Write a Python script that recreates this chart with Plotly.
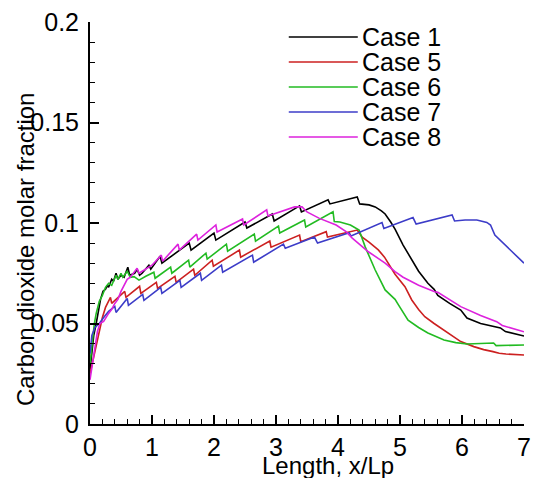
import plotly.graph_objects as go

# ---------------- data ----------------
names = ["Case 1", "Case 5", "Case 6", "Case 7", "Case 8"]
colors = ["#000000", "#cc2020", "#22bb22", "#3c3cc8", "#dd22dd"]

x1 = [0, 0.03, 0.06, 0.1, 0.13, 0.17, 0.21, 0.25, 0.28, 0.3, 0.35, 0.38, 0.42, 0.45, 0.5, 0.55,
      0.61, 0.64, 0.72, 0.76, 0.8, 0.84, 0.95, 0.98, 1.13, 1.16, 1.6, 1.63, 2.0, 2.03, 2.5, 2.53,
      2.94, 2.97, 3.38, 3.41, 3.84, 3.87, 4.31, 4.35, 4.5, 4.6, 4.7, 4.76, 4.85, 4.92, 5.05, 5.19,
      5.3, 5.45, 5.55, 5.61, 5.8, 5.98, 6.08, 6.3, 6.62, 6.7, 6.8, 7.0]
y1 = [0.027, 0.036, 0.044, 0.05, 0.056, 0.062, 0.066, 0.067, 0.069, 0.068, 0.072, 0.071, 0.075,
      0.072, 0.074, 0.073, 0.078, 0.074, 0.075, 0.077, 0.074, 0.075, 0.079, 0.077, 0.0835, 0.080,
      0.090, 0.0865, 0.095, 0.0915, 0.1005, 0.0975, 0.1045, 0.101, 0.1085, 0.1055, 0.1115, 0.1095,
      0.113, 0.1095, 0.109, 0.108, 0.106, 0.1045, 0.1005, 0.097, 0.089, 0.0816, 0.076, 0.070,
      0.067, 0.064, 0.060, 0.0567, 0.0527, 0.050, 0.0478, 0.046, 0.0452, 0.0438]

x5 = [0, 0.05, 0.1, 0.15, 0.2, 0.25, 0.33, 0.35, 0.56, 0.58, 0.8, 0.82, 1.07, 1.09, 1.37, 1.39,
      1.67, 1.69, 1.97, 1.99, 2.41, 2.43, 2.9, 2.92, 3.38, 3.4, 3.81, 3.83, 4.31, 4.39, 4.5, 4.65,
      4.75, 4.87, 4.92, 5.08, 5.19, 5.3, 5.4, 5.55, 5.71, 5.85, 5.98, 6.19, 6.35, 6.5, 6.6, 6.71,
      6.9, 7.0]
y5 = [0.025, 0.032, 0.04, 0.047, 0.053, 0.058, 0.063, 0.06, 0.066, 0.063, 0.0685, 0.065, 0.0705,
      0.0675, 0.0735, 0.0705, 0.077, 0.074, 0.0815, 0.0785, 0.0865, 0.083, 0.091, 0.088, 0.094,
      0.0907, 0.0957, 0.093, 0.0965, 0.093, 0.0905, 0.0866, 0.083, 0.077, 0.0745, 0.0683, 0.0617,
      0.057, 0.0534, 0.050, 0.0468, 0.044, 0.041, 0.0385, 0.037, 0.036, 0.0352, 0.0348, 0.0345,
      0.0343]

x6 = [0, 0.03, 0.07, 0.1, 0.15, 0.2, 0.25, 0.3, 0.35, 0.42, 0.45, 0.5, 0.53, 0.6, 0.65, 0.71,
      0.79, 0.9, 1.03, 1.05, 1.3, 1.32, 1.59, 1.61, 1.87, 1.89, 2.2, 2.22, 2.65, 2.67, 3.04, 3.06,
      3.46, 3.48, 3.92, 3.94, 4.03, 4.2, 4.34, 4.44, 4.52, 4.6, 4.76, 4.92, 4.97, 5.13, 5.3, 5.45,
      5.71, 5.9, 6.08, 6.3, 6.51, 6.55, 6.8, 7.0]
y6 = [0.03, 0.04, 0.05, 0.055, 0.061, 0.064, 0.068, 0.07, 0.069, 0.074, 0.072, 0.075, 0.073,
      0.076, 0.073, 0.0733, 0.0716, 0.0735, 0.0755, 0.0725, 0.078, 0.075, 0.0815, 0.078, 0.085,
      0.082, 0.0895, 0.086, 0.0945, 0.091, 0.0985, 0.095, 0.1015, 0.098, 0.1056, 0.1007, 0.1005,
      0.099, 0.0965, 0.088, 0.082, 0.0766, 0.0667, 0.062, 0.0595, 0.0517, 0.048, 0.0453, 0.0418,
      0.0405, 0.0398, 0.040, 0.0403, 0.039, 0.0392, 0.0393]

x7 = [0, 0.03, 0.08, 0.15, 0.22, 0.3, 0.4, 0.42, 0.6, 0.62, 0.85, 0.87, 1.14, 1.16, 1.45, 1.47,
      1.78, 1.8, 2.12, 2.14, 2.62, 2.64, 3.12, 3.15, 3.62, 3.67, 4.18, 4.21, 4.71, 4.74, 5.21,
      5.26, 5.84, 5.88, 6.05, 6.24, 6.4, 6.46, 6.53, 6.7, 7.0]
y7 = [0.035, 0.044, 0.048, 0.05, 0.053, 0.056, 0.0585, 0.0555, 0.0625, 0.059, 0.0645, 0.0615,
      0.068, 0.065, 0.0715, 0.068, 0.075, 0.0715, 0.079, 0.0755, 0.084, 0.0805, 0.0895, 0.0874,
      0.093, 0.090, 0.0952, 0.0935, 0.1002, 0.0973, 0.1027, 0.0995, 0.104, 0.101, 0.1015, 0.1015,
      0.1003, 0.099, 0.094, 0.089, 0.080]

x8 = [0, 0.04, 0.08, 0.12, 0.16, 0.22, 0.3, 0.35, 0.4, 0.45, 0.5, 0.55, 0.6, 0.65, 0.72, 0.76,
      0.79, 0.9, 1.0, 1.15, 1.17, 1.42, 1.44, 1.72, 1.74, 2.03, 2.05, 2.46, 2.48, 2.85, 2.87, 3.3,
      3.42, 3.5, 3.7, 3.97, 4.13, 4.23, 4.49, 4.76, 4.92, 5.05, 5.3, 5.56, 5.61, 5.98, 6.3, 6.56,
      6.65, 7.0]
y8 = [0.022, 0.03, 0.038, 0.046, 0.05, 0.051, 0.055, 0.057, 0.06, 0.062, 0.066, 0.069, 0.072,
      0.073, 0.076, 0.0775, 0.075, 0.077, 0.079, 0.084, 0.081, 0.0895, 0.0865, 0.0945, 0.0915,
      0.099, 0.0955, 0.102, 0.099, 0.1065, 0.1035, 0.108, 0.108, 0.1055, 0.1023, 0.099, 0.0957,
      0.0925, 0.0857, 0.080, 0.0758, 0.073, 0.069, 0.0658, 0.0655, 0.0584, 0.054, 0.0509, 0.049,
      0.0459]

xs = [x1, x5, x6, x7, x8]
ys = [y1, y5, y6, y7, y8]

x_ticks = [0, 1, 2, 3, 4, 5, 6, 7]
y_ticks = [0, 0.05, 0.1, 0.15, 0.2]
y_tick_text = ["0", "0.05", "0.1", "0.15", "0.2"]

x_title = "Length, x/Lp"
y_title = "Carbon dioxide molar fraction"

# ---------------- figure ----------------
FONT = "Arial, Liberation Sans, sans-serif"
fig = go.Figure()
for n, c, xv, yv in zip(names, colors, xs, ys):
    fig.add_trace(go.Scatter(x=xv, y=yv, mode="lines", name=n,
                             line=dict(color=c, width=1.6), showlegend=False))

# manual legend (long line samples like the reference)
leg_y0 = 0.9627
leg_dy = 0.0622
for i, (n, c) in enumerate(zip(names, colors)):
    yy = leg_y0 - i * leg_dy
    fig.add_shape(type="line", xref="paper", yref="paper",
                  x0=0.458, x1=0.617, y0=yy, y1=yy,
                  line=dict(color=c, width=1.6))
    fig.add_annotation(text=n, xref="paper", yref="paper", x=0.622, y=yy,
                       xanchor="left", yanchor="middle", showarrow=False,
                       font=dict(family=FONT, size=25, color="black"))

# axis titles
fig.add_annotation(text=x_title, xref="paper", yref="paper", x=0.549, y=-0.103,
                   xanchor="center", yanchor="middle", showarrow=False,
                   font=dict(family=FONT, size=24, color="black"))
fig.add_annotation(text=y_title, xref="paper", yref="paper", x=-0.15, y=0.435,
                   xanchor="center", yanchor="middle", showarrow=False, textangle=-90,
                   font=dict(family=FONT, size=24, color="black"))

fig.update_layout(
    width=538, height=478,
    margin=dict(l=90, r=7, t=22, b=54),
    paper_bgcolor="white", plot_bgcolor="white",
    font=dict(family=FONT, size=25, color="black"),
    xaxis=dict(range=[0, 7], tickvals=x_ticks, ticks="inside", ticklen=9, tickwidth=1.5,
               tickcolor="black", showline=True, linecolor="black", linewidth=2,
               showgrid=False, zeroline=False, ticklabelstandoff=0,
               tickfont=dict(family=FONT, size=25),
               minor=dict(dtick=0.2, ticks="inside", ticklen=5, tickwidth=1, tickcolor="black",
                          showgrid=False)),
    yaxis=dict(range=[0, 0.2], tickvals=y_ticks, ticktext=y_tick_text, ticks="inside",
               ticklen=9, tickwidth=1.5, tickcolor="black", showline=True, linecolor="black",
               linewidth=2, showgrid=False, zeroline=False, ticklabelstandoff=4,
               tickfont=dict(family=FONT, size=25),
               minor=dict(dtick=0.01, ticks="inside", ticklen=5, tickwidth=1, tickcolor="black",
                          showgrid=False)),
)

fig.write_html("out.html")
